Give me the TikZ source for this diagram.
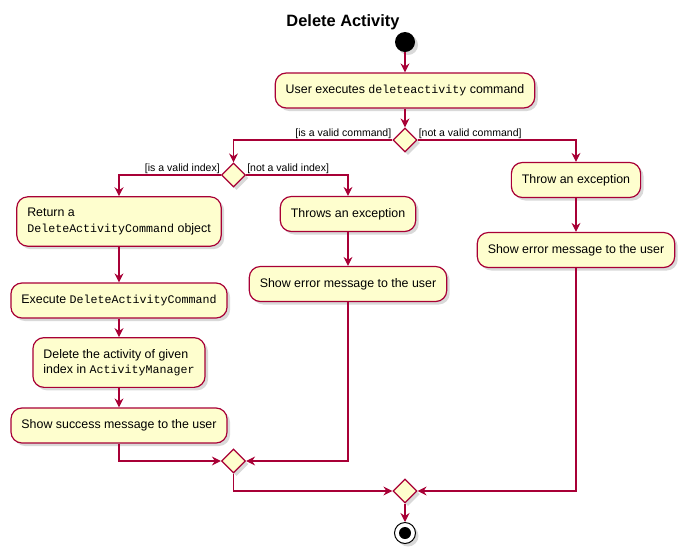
\documentclass[tikz,border=0pt]{standalone}
\usepackage{fontspec}
\setmainfont{Liberation Sans}
\setmonofont[Scale=0.94]{Liberation Mono}
\usetikzlibrary{positioning, arrows.meta, shapes.geometric, shadows}
\definecolor{umlred}{HTML}{A80036}
\definecolor{umlfill}{HTML}{FEFECE}

\begin{document}
\begin{tikzpicture}[
            x=1pt, y=-1pt,
            shade/.style={drop shadow={opacity=0.3, shadow xshift=3pt, shadow yshift=-3pt}},
            act/.style={rectangle, draw=umlred, fill=umlfill, line width=1.2pt, rounded corners=11pt,
                        minimum height=35pt, inner xsep=10.5pt, inner ysep=11.5pt, align=left,
                        font=\fontsize{12.4}{15.3}\selectfont, shade},
            decision/.style={diamond, draw=umlred, fill=umlfill, line width=1.2pt,
                        minimum width=24pt, minimum height=24pt, inner sep=0pt, shade},
            flow/.style={-{Stealth[length=9pt, width=9pt, inset=3pt]}, draw=umlred, line width=1.2pt},
            guard/.style={font=\fontsize{10.5}{12}\selectfont, inner sep=1pt},
        ]
            \useasboundingbox (0,0) rectangle (685,555);
            \node[font=\bfseries\fontsize{16.4}{19}\selectfont] (title) at (343,22) {Delete Activity};

            % start and first action
            \node[circle, fill=black, minimum size=20pt, inner sep=0pt, shade] (start) at (405,42) {};
            \node[act] (exec) at (405,90.5) {User executes \texttt{deleteactivity} command};
            \node[decision] (cmdok) at (405,140) {};
            \draw[flow] (start) -- (exec);
            \draw[flow] (exec) -- (cmdok);
            \node[guard, anchor=south east] (gvalid) at (cmdok.west) {[is a valid command]};
            \node[guard, anchor=south west] (ginvalid) at (cmdok.east) {[not a valid command]};

            % valid command branch
            \node[decision] (idxok) at (233.5,175) {};
            \node[guard, anchor=south east] (gidx) at (idxok.west) {[is a valid index]};
            \node[guard, anchor=south west] (gnoidx) at (idxok.east) {[not a valid index]};
            \node[act] (ret) at (119,221.5) {Return a\\\texttt{DeleteActivityCommand} object};
            \node[act] (run) at (119,300.5) {Execute \texttt{DeleteActivityCommand}};
            \node[act] (del) at (119,362.5) {Delete the activity of given\\index in \texttt{ActivityManager}};
            \node[act] (done) at (119,425.5) {Show success message to the user};
            \node[act] (thrws) at (348,214) {Throws an exception};
            \node[act] (errA) at (348,284) {Show error message to the user};
            \node[decision] (mergeA) at (233.5,461) {};

            \draw[flow] (cmdok.west) -| (idxok.north);
            \draw[flow] (idxok.west) -| (ret.north);
            \draw[flow] (idxok.east) -| (thrws.north);
            \draw[flow] (ret) -- (run);
            \draw[flow] (run) -- (del);
            \draw[flow] (del) -- (done);
            \draw[flow] (thrws) -- (errA);
            \draw[flow] (done.south) |- (mergeA.west);
            \draw[flow] (errA.south) |- (mergeA.east);

            % invalid command branch
            \node[act] (thrw) at (576,180) {Throw an exception};
            \node[act] (errB) at (576,250) {Show error message to the user};
            \draw[flow] (cmdok.east) -| (thrw.north);
            \draw[flow] (thrw) -- (errB);

            % end
            \node[decision] (mergeB) at (405,491) {};
            \draw[flow] (mergeA.south) |- (mergeB.west);
            \draw[flow] (errB.south) |- (mergeB.east);
            \node[circle, draw=black, fill=white, line width=1pt, minimum size=21pt, inner sep=0pt, shade] (stop) at (405,533) {};
            \node[circle, fill=black, minimum size=12pt, inner sep=0pt] (stopdot) at (stop.center) {};
            \draw[flow] (mergeB) -- (stop);
        \end{tikzpicture}
\end{document}
